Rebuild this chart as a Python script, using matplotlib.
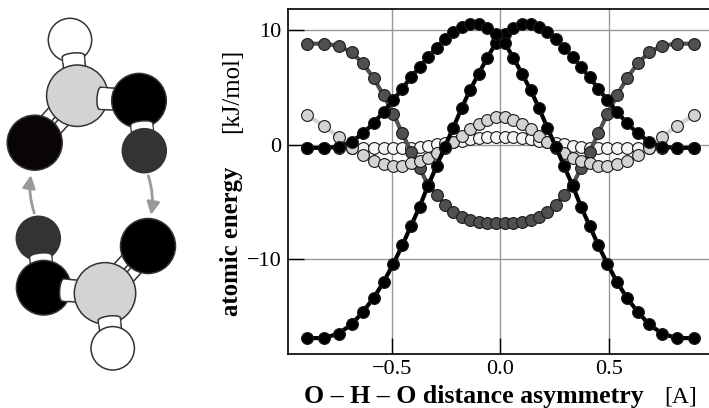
#!/usr/bin/env python
# -*- coding: utf-8 -*-
""" Atomic energies along the proton transfer, with a sketch of the two molecules """

import numpy as np
import matplotlib
matplotlib.use("Agg")
import matplotlib.pyplot as plt
from matplotlib.patches import Circle, Ellipse, FancyArrowPatch, Polygon

plt.rcParams["font.family"] = ["Liberation Serif", "DejaVu Serif"]

# Half of the scan, the other half mirrors it
x_half = [0.02, 0.06, 0.10, 0.14, 0.178, 0.216, 0.255, 0.293, 0.333, 0.371,
          0.411, 0.451, 0.492, 0.537, 0.583, 0.632, 0.684, 0.744, 0.811, 0.891]
black_rising = [-16.9, -16.9, -16.5, -15.7, -14.6, -13.4, -12.0, -10.4, -8.8, -7.1,
                -5.4, -3.6, -1.86, -0.17, 1.5, 3.2, 4.75, 6.2, 7.6, 8.9,
                9.7, 10.17, 10.52, 10.52, 10.26, 9.82, 9.24, 8.48, 7.67, 6.79,
                5.89, 4.9, 3.9, 2.89, 1.87, 1.0, 0.26, -0.17, -0.29, -0.26]
dark_half = [-6.85, -6.85, -6.76, -6.55, -6.35, -5.88, -5.24, -4.37, -3.5, -2.04,
             -0.61, 1.0, 2.68, 4.32, 5.83, 7.1, 8.07, 8.65, 8.83, 8.83]
light_half = [2.39, 2.2, 1.84, 1.34, 0.76, 0.2, -0.25, -0.75, -1.13, -1.42,
              -1.63, -1.83, -1.83, -1.7, -1.42, -0.9, -0.32, 0.65, 1.63, 2.62]
pale_half = [0.7, 0.67, 0.61, 0.47, 0.35, 0.2, 0.12, 0.03, -0.11, -0.17,
             -0.26, -0.32, -0.32, -0.32, -0.26, -0.26, -0.25, -0.25, -0.28, -0.3]
x_ticks = [-0.5, 0.0, 0.5]
y_ticks = [-10, 0, 10]

# Sketch, in picture pixels: (x, y, radius, colour)
EDGE = "#333333"
h_top = (70, 40, 21.7, "white")
c_top = (77.3, 95.7, 30.7, "#d3d3d3")
o_top_r = (139, 100.7, 27.3, "black")
p_top = (144.3, 150.7, 22, "#333333")
o_top_l = (34.7, 142.7, 27.5, "#0a0505")
p_bot = (38.3, 238.3, 22, "#333333")
o_bot_l = (43.7, 287.7, 27.3, "black")
c_bot = (105, 293.3, 30.7, "#d3d3d3")
o_bot_r = (148, 246, 27.5, "black")
h_bot = (112.7, 348.3, 21.7, "white")


def mirror(half):
    return list(half[::-1]) + list(half)


def atom(ax, a):
    ax.add_patch(Circle(a[:2], a[2], facecolor=a[3], edgecolor=EDGE, linewidth=1.1))


def bar(ax, p0, p1, width, offset=0.0):
    p0, p1 = np.array(p0[:2], float), np.array(p1[:2], float)
    d = (p1 - p0) / np.hypot(*(p1 - p0))
    n = np.array([-d[1], d[0]])
    c = n * offset
    pts = [p0 + c + n * width / 2, p1 + c + n * width / 2, p1 + c - n * width / 2, p0 + c - n * width / 2]
    ax.add_patch(Polygon(pts, closed=True, facecolor="white", edgecolor=EDGE, linewidth=1.1))


def bond(ax, start, end, width=22):
    # Single bond: the start end shows as a shallow arc on the atom it sits on
    bar(ax, start, end, width)
    ang = np.degrees(np.arctan2(end[1] - start[1], end[0] - start[0]))
    ax.add_patch(Ellipse(start, 6, width, angle=ang, facecolor="white", edgecolor=EDGE, linewidth=1.1))
    d = np.array(end[:2], float) - np.array(start, float)
    d = d / np.hypot(*d)
    n = np.array([-d[1], d[0]]) * (width / 2 - 0.6)
    s = np.array(start, float)
    # hide the seam between the arc and the bar
    ax.add_patch(Polygon([s + n, s + d * 6 + n, s + d * 6 - n, s - n], closed=True, facecolor="white", edgecolor="none"))


def draw_sketch(ax):
    atom(ax, h_top)
    bond(ax, (73.3, 56), c_top)
    bar(ax, c_top, o_top_l, 11, 7.5)
    bar(ax, c_top, o_top_l, 11, -7.5)
    atom(ax, c_top)
    bond(ax, (100, 98.3), o_top_r)
    atom(ax, o_top_r)
    bond(ax, (141.7, 124), p_top)
    atom(ax, p_top)
    atom(ax, o_top_l)

    atom(ax, p_bot)
    bond(ax, (40.7, 256), o_bot_l)
    atom(ax, o_bot_l)
    bond(ax, (62.7, 290), c_bot)
    bar(ax, c_bot, o_bot_r, 11, 7.5)
    bar(ax, c_bot, o_bot_r, 11, -7.5)
    atom(ax, c_bot)
    bond(ax, (109.3, 319), h_bot)
    atom(ax, h_bot)
    atom(ax, o_bot_r)

    for start, end, rad in [((34.3, 213), (31, 175), -0.12), ((148.3, 175.7), (151, 215), -0.12)]:
        ax.add_patch(FancyArrowPatch(start, end, arrowstyle="-|>", mutation_scale=19, shrinkA=0, shrinkB=0,
                                     connectionstyle="arc3,rad=%s" % rad, color="#9a9a9a", linewidth=2.0))


fig = plt.figure(figsize=(7.09, 4.08), dpi=100)

# Overlay in pixel coordinates for the sketch and the axis titles
over = fig.add_axes([0, 0, 1, 1])
over.set_xlim(0, 709)
over.set_ylim(408, 0)
over.axis("off")
draw_sketch(over)

ax = fig.add_axes([287.5 / 709, 54 / 408, 1 - 287.5 / 709, 345 / 408])
ax.patch.set_alpha(0)
x = [-v for v in x_half[::-1]] + x_half
series = [(mirror(pale_half), "#f5f5f5"),
          (mirror(dark_half), "#505050"),
          (mirror(light_half), "#d3d3d3"),
          (black_rising, "black"),
          (black_rising[::-1], "black")]
for vals, col in series:
    ax.plot(x, vals, "-o", color=col, lw=3, ms=8.5, mec="#1a1a1a", mew=0.8, clip_on=False, zorder=3)

ax.set_xlim(-0.979, 0.96)
ax.set_ylim(-18.29, 11.86)
ax.set_xticks(x_ticks)
ax.set_xticklabels(["\u22120.5", "0.0", "0.5"])
ax.set_yticks(y_ticks)
ax.set_yticklabels(["\u221210", "0", "10"])
ax.grid(True, color="#999999", lw=1.0, zorder=0)
ax.set_axisbelow(True)
ax.tick_params(direction="in", length=11.5, width=1.0, labelsize=16, pad=4.5, color="black")
ax.spines["right"].set_visible(False)
for s in ["left", "top", "bottom"]:
    ax.spines[s].set_linewidth(1.2)

over.text(304, 403, "O \u2013 H \u2013 O distance asymmetry", fontsize=18.6, fontweight="bold", ha="left", va="baseline")
over.text(664, 403, "[A]", fontsize=17, ha="left", va="baseline")
over.text(238, 316, "atomic energy", fontsize=17.8, fontweight="bold", rotation=90, ha="left", va="baseline",
          rotation_mode="anchor")
over.text(238, 133, "[kJ/mol]", fontsize=17.8, rotation=90, ha="left", va="baseline", rotation_mode="anchor")

fig.savefig("out.png", dpi=100)
